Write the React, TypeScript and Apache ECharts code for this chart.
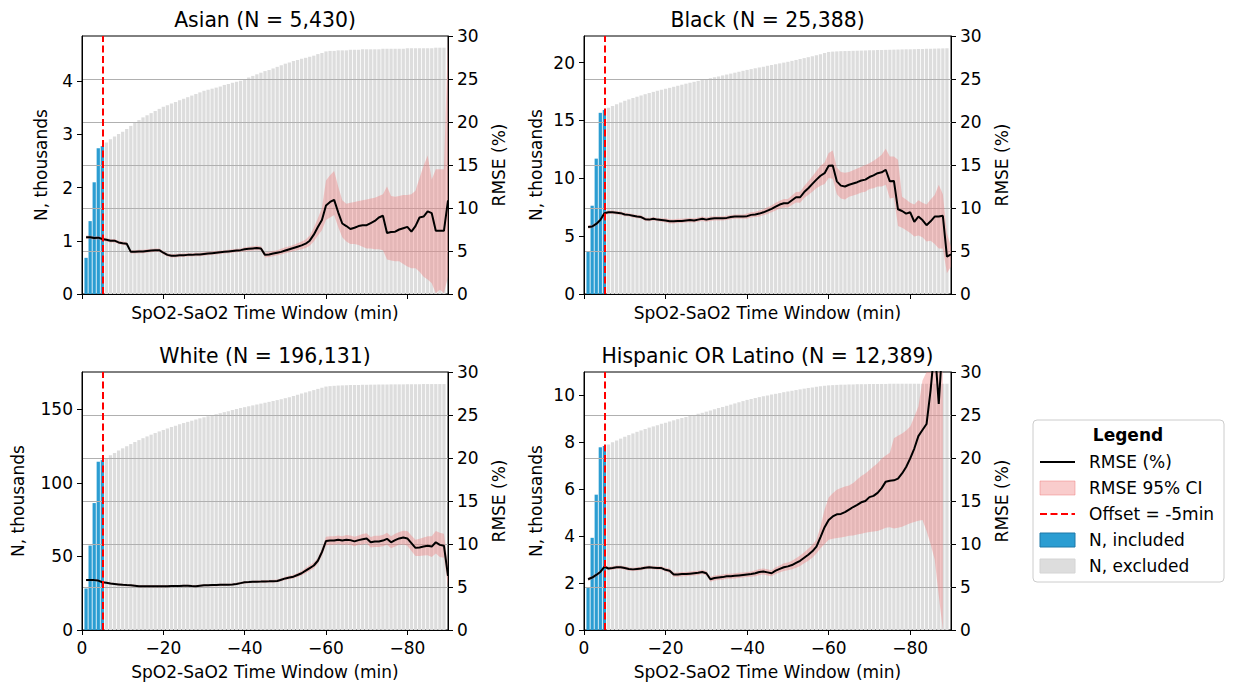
import React, { useEffect, useRef } from 'react';
import * as echarts from 'echarts';

// ---------------- DATA ----------------
const TITLES = ['Asian (N = 5,430)', 'Black (N = 25,388)', 'White (N = 196,131)', 'Hispanic OR Latino (N = 12,389)'];
const X_TICKS = [0, 20, 40, 60, 80];
const RMSE_TICKS = [0, 5, 10, 15, 20, 25, 30];
const N_TICKS = [[0, 1, 2, 3, 4], [0, 5, 10, 15, 20], [0, 50, 100, 150], [0, 2, 4, 6, 8, 10]];
const N_AXIS_MAX = [4.85, 22.3, 175.4, 11.0];
const OFFSET_MIN = 5;
const INCLUDED_COUNT = 5;

// N (thousands) for windows 1..89 min
const N_ASIAN = [
  0.68, 1.37, 2.10, 2.74, 2.78,
  2.85, 2.91, 2.96, 3.01, 3.05, 3.10, 3.16, 3.22, 3.27, 3.32, 3.36, 3.40, 3.44, 3.48, 3.52,
  3.55, 3.58, 3.61, 3.64, 3.67, 3.70, 3.73, 3.76, 3.79, 3.82,
  3.84, 3.86, 3.88, 3.90, 3.93, 3.95, 3.97, 3.99, 4.01, 4.04,
  4.07, 4.10, 4.13, 4.16, 4.19, 4.21, 4.24, 4.27, 4.30, 4.33,
  4.35, 4.38, 4.40, 4.42, 4.44, 4.46, 4.48, 4.51, 4.53, 4.56,
  4.57, 4.57, 4.58, 4.58, 4.58, 4.59, 4.59, 4.59, 4.60, 4.60,
  4.60, 4.60, 4.60, 4.61, 4.61, 4.61, 4.61, 4.61, 4.61, 4.62,
  4.62, 4.62, 4.62, 4.62, 4.62, 4.62, 4.63, 4.63, 4.63,
];
const N_BLACK = [
  3.67, 7.63, 11.70, 15.66, 15.90,
  16.10, 16.25, 16.40, 16.55, 16.70,
  16.82, 16.94, 17.05, 17.16, 17.27, 17.37, 17.47, 17.56, 17.65, 17.73,
  17.82, 17.91, 18.00, 18.09, 18.18, 18.26, 18.34, 18.42, 18.50, 18.57,
  18.65, 18.73, 18.81, 18.89, 18.97, 19.05, 19.13, 19.21, 19.29, 19.37,
  19.44, 19.51, 19.58, 19.65, 19.72, 19.79, 19.86, 19.93, 20.00, 20.07,
  20.15, 20.23, 20.31, 20.39, 20.47, 20.55, 20.63, 20.72, 20.82, 20.92,
  20.95, 20.97, 20.99, 21.00, 21.01, 21.02, 21.03, 21.04, 21.05, 21.06,
  21.07, 21.08, 21.09, 21.10, 21.11, 21.12, 21.13, 21.14, 21.15, 21.15,
  21.16, 21.17, 21.18, 21.19, 21.20, 21.21, 21.22, 21.23, 21.24,
];
const N_WHITE = [
  28.2, 57.4, 86.3, 114.4, 115.5,
  117.0, 118.8, 120.4, 122.0, 123.5,
  125.0, 126.4, 127.8, 129.1, 130.4, 131.6, 132.8, 133.9, 135.0, 136.0,
  137.0, 138.0, 138.9, 139.8, 140.7, 141.5, 142.3, 143.1, 143.9, 144.6,
  145.3, 146.0, 146.7, 147.4, 148.1, 148.8, 149.5, 150.2, 150.9, 151.5,
  152.1, 152.7, 153.3, 153.9, 154.5, 155.1, 155.7, 156.3, 156.9, 157.6,
  158.3, 159.1, 159.9, 160.7, 161.5, 162.3, 163.1, 163.9, 164.7, 165.5,
  165.8, 166.0, 166.2, 166.3, 166.4, 166.5, 166.6, 166.6, 166.7, 166.7,
  166.8, 166.8, 166.9, 166.9, 166.9, 167.0, 167.0, 167.0, 167.0, 167.1,
  167.1, 167.1, 167.1, 167.2, 167.2, 167.2, 167.2, 167.2, 167.2,
];
const N_HISPANIC = [
  1.81, 3.93, 5.77, 7.79, 7.84,
  7.91, 8.00, 8.08, 8.16, 8.24,
  8.31, 8.38, 8.45, 8.51, 8.57, 8.63, 8.68, 8.73, 8.79, 8.84,
  8.89, 8.94, 8.99, 9.04, 9.08, 9.13, 9.17, 9.22, 9.26, 9.31,
  9.36, 9.41, 9.46, 9.51, 9.56, 9.61, 9.66, 9.71, 9.76, 9.81,
  9.85, 9.89, 9.93, 9.97, 10.00, 10.04, 10.07, 10.10, 10.14, 10.17,
  10.20, 10.23, 10.26, 10.29, 10.32, 10.34, 10.37, 10.39, 10.41, 10.43,
  10.44, 10.45, 10.46, 10.46, 10.47, 10.47, 10.48, 10.48, 10.48, 10.49,
  10.49, 10.49, 10.49, 10.49, 10.50, 10.50, 10.50, 10.50, 10.50, 10.50,
  10.50, 10.50, 10.50, 10.50, 10.50, 10.50, 10.50, 10.50, 10.50,
];

// RMSE (%) and 95% CI for windows 1..90 min
const RMSE_ASIAN = [
  6.6, 6.6, 6.5, 6.55, 6.4, 6.3, 6.2, 6.2, 6.0, 5.9,
  5.85, 4.9, 4.9, 4.95, 4.95, 5.0, 5.05, 5.1, 5.1, 4.8,
  4.55, 4.45, 4.45, 4.5, 4.5, 4.55, 4.55, 4.6, 4.6, 4.65,
  4.7, 4.75, 4.8, 4.85, 4.9, 4.95, 5.0, 5.05, 5.1, 5.2,
  5.25, 5.3, 5.35, 5.3, 4.55, 4.6, 4.7, 4.8, 4.9, 5.05,
  5.2, 5.35, 5.5, 5.65, 5.85, 6.2, 6.9, 7.8, 8.6, 10.3,
  10.7, 10.95, 9.5, 8.2, 7.9, 7.55, 7.7, 7.9, 8.0, 8.0,
  8.25, 8.5, 8.9, 9.1, 7.1, 7.2, 7.25, 7.5, 7.65, 7.8,
  7.25, 7.9, 8.9, 9.0, 9.6, 9.4, 7.35, 7.35, 7.35, 10.9,
];
const LO_ASIAN = [
  6.4, 6.4, 6.3, 6.35, 6.2, 6.1, 6.0, 6.0, 5.8, 5.7,
  5.65, 4.7, 4.7, 4.75, 4.75, 4.8, 4.85, 4.9, 4.9, 4.6,
  4.35, 4.25, 4.25, 4.3, 4.3, 4.35, 4.35, 4.4, 4.4, 4.45,
  4.5, 4.55, 4.6, 4.65, 4.7, 4.75, 4.8, 4.85, 4.9, 4.95,
  5.0, 5.05, 5.1, 5.05, 4.25, 4.3, 4.4, 4.5, 4.6, 4.75,
  4.85, 5.0, 5.1, 5.2, 5.35, 5.6, 6.1, 6.8, 7.4, 8.6,
  8.9, 9.2, 7.8, 6.6, 6.1, 5.8, 5.8, 5.7, 5.5, 5.3,
  5.3, 5.2, 5.2, 5.1, 4.0, 3.9, 3.8, 3.8, 3.5, 3.2,
  3.0, 3.0, 2.6, 2.0, 1.7, 1.25, 0.1, 0.5, 0.1, 2.0,
];
const HI_ASIAN = [
  6.8, 6.8, 6.7, 6.75, 6.6, 6.5, 6.4, 6.4, 6.2, 6.1,
  6.05, 5.1, 5.1, 5.15, 5.15, 5.2, 5.25, 5.3, 5.3, 5.0,
  4.75, 4.65, 4.65, 4.7, 4.7, 4.75, 4.75, 4.8, 4.8, 4.85,
  4.9, 4.95, 5.0, 5.05, 5.1, 5.15, 5.2, 5.25, 5.3, 5.45,
  5.5, 5.55, 5.6, 5.55, 4.8, 4.9, 5.0, 5.1, 5.25, 5.45,
  5.55, 5.7, 5.9, 6.1, 6.35, 6.8, 7.7, 8.8, 10.0, 13.2,
  13.8, 14.3, 12.5, 10.9, 10.5, 10.6, 10.7, 10.8, 10.9, 11.0,
  11.1, 11.2, 11.4, 11.6, 12.5, 11.4, 11.3, 11.4, 11.5, 11.5,
  11.6, 12.0, 13.5, 14.9, 16.1, 13.3, 14.5, 14.5, 14.5, 30.5,
];

const RMSE_BLACK = [
  7.8, 7.85, 8.15, 8.6, 9.4, 9.5, 9.5, 9.45, 9.4, 9.25,
  9.2, 9.1, 9.0, 8.95, 8.7, 8.65, 8.75, 8.65, 8.6, 8.55,
  8.45, 8.45, 8.5, 8.5, 8.55, 8.6, 8.55, 8.65, 8.75, 8.65,
  8.75, 8.8, 8.8, 8.8, 8.85, 8.95, 9.0, 9.0, 9.0, 9.05,
  9.2, 9.25, 9.35, 9.5, 9.7, 9.9, 10.15, 10.4, 10.55, 10.55,
  10.9, 11.25, 11.25, 11.85, 12.3, 12.8, 13.3, 13.75, 14.05, 14.9,
  14.95, 13.1, 12.6, 12.5, 12.7, 12.85, 13.0, 13.2, 13.3, 13.6,
  13.8, 14.05, 14.15, 14.45, 13.1, 13.15, 9.85, 9.65, 9.35, 9.5,
  8.4, 9.0, 8.6, 8.0, 8.45, 9.0, 9.0, 9.1, 4.35, 4.6,
];
const LO_BLACK = [
  7.6, 7.65, 7.95, 8.4, 9.2, 9.3, 9.3, 9.25, 9.2, 9.05,
  9.0, 8.9, 8.8, 8.75, 8.5, 8.45, 8.55, 8.45, 8.4, 8.3,
  8.2, 8.2, 8.25, 8.25, 8.3, 8.35, 8.3, 8.4, 8.5, 8.4,
  8.5, 8.55, 8.55, 8.55, 8.6, 8.7, 8.75, 8.75, 8.75, 8.75,
  8.9, 8.95, 9.0, 9.15, 9.3, 9.5, 9.7, 9.95, 10.05, 10.05,
  10.35, 10.65, 10.6, 11.15, 11.5, 11.9, 12.3, 12.6, 12.8, 13.5,
  13.4, 11.6, 11.1, 11.0, 11.3, 11.45, 11.6, 11.8, 11.9, 12.2,
  12.3, 12.5, 12.5, 12.7, 11.1, 11.2, 7.9, 7.7, 7.4, 7.1,
  6.7, 6.8, 6.6, 6.1, 6.2, 5.8, 5.3, 5.3, 2.4, 3.2,
];
const HI_BLACK = [
  8.0, 8.05, 8.35, 8.8, 9.6, 9.7, 9.7, 9.65, 9.6, 9.45,
  9.4, 9.3, 9.2, 9.15, 8.9, 8.85, 8.95, 8.85, 8.8, 8.8,
  8.7, 8.7, 8.75, 8.75, 8.8, 8.85, 8.8, 8.9, 9.0, 8.9,
  9.0, 9.05, 9.05, 9.05, 9.1, 9.2, 9.25, 9.25, 9.25, 9.35,
  9.5, 9.55, 9.7, 9.85, 10.1, 10.3, 10.6, 10.85, 11.05, 11.05,
  11.45, 11.85, 11.9, 12.55, 13.1, 13.7, 14.3, 14.9, 15.3, 16.4,
  16.7, 14.7, 14.2, 14.1, 14.2, 14.4, 14.6, 14.8, 15.0, 15.2,
  15.5, 15.8, 16.2, 16.9, 16.0, 16.0, 15.6, 11.3, 11.0, 10.6,
  10.4, 10.9, 10.6, 10.4, 11.0, 11.5, 12.7, 11.6, 7.1, 5.5,
];

const RMSE_WHITE = [
  5.8, 5.8, 5.8, 5.75, 5.55, 5.5, 5.4, 5.35, 5.3, 5.25,
  5.22, 5.2, 5.15, 5.1, 5.1, 5.1, 5.1, 5.1, 5.1, 5.1,
  5.1, 5.12, 5.12, 5.12, 5.15, 5.15, 5.12, 5.1, 5.15, 5.2,
  5.2, 5.22, 5.22, 5.25, 5.25, 5.27, 5.3, 5.35, 5.45, 5.55,
  5.57, 5.6, 5.62, 5.63, 5.65, 5.66, 5.68, 5.7, 5.85, 6.0,
  6.1, 6.2, 6.4, 6.6, 6.9, 7.2, 7.5, 8.05, 9.05, 10.35,
  10.4, 10.4, 10.5, 10.4, 10.5, 10.45, 10.3, 10.45, 10.55, 10.65,
  10.2, 10.3, 10.3, 10.4, 10.6, 10.2, 10.45, 10.65, 10.75, 10.65,
  10.1, 9.55, 9.6, 9.7, 9.8, 9.7, 10.2, 9.9, 9.8, 6.3,
];
const LO_WHITE = [
  5.68, 5.68, 5.68, 5.63, 5.43, 5.38, 5.28, 5.23, 5.18, 5.13,
  5.1, 5.08, 5.03, 4.98, 4.98, 4.98, 4.98, 4.98, 4.98, 4.98,
  4.98, 5.0, 5.0, 5.0, 5.03, 5.03, 5.0, 4.98, 5.03, 5.08,
  5.08, 5.1, 5.1, 5.13, 5.13, 5.15, 5.18, 5.22, 5.32, 5.42,
  5.44, 5.46, 5.48, 5.49, 5.5, 5.51, 5.53, 5.54, 5.68, 5.82,
  5.9, 5.98, 6.16, 6.34, 6.6, 6.88, 7.15, 7.7, 8.6, 9.85,
  9.9, 9.9, 10.0, 9.9, 9.95, 9.9, 9.75, 9.9, 9.95, 10.05,
  9.6, 9.65, 9.65, 9.75, 9.9, 9.5, 9.7, 9.9, 9.95, 9.8,
  9.2, 8.6, 8.6, 8.65, 8.7, 8.5, 8.9, 8.5, 8.4, 5.0,
];
const HI_WHITE = [
  5.92, 5.92, 5.92, 5.87, 5.67, 5.62, 5.52, 5.47, 5.42, 5.37,
  5.34, 5.32, 5.27, 5.22, 5.22, 5.22, 5.22, 5.22, 5.22, 5.22,
  5.22, 5.24, 5.24, 5.24, 5.27, 5.27, 5.24, 5.22, 5.27, 5.32,
  5.32, 5.34, 5.34, 5.37, 5.37, 5.39, 5.42, 5.48, 5.58, 5.68,
  5.7, 5.74, 5.76, 5.77, 5.8, 5.81, 5.83, 5.86, 6.02, 6.18,
  6.3, 6.42, 6.64, 6.86, 7.2, 7.52, 7.85, 8.4, 9.5, 10.85,
  10.9, 10.9, 11.0, 10.9, 11.05, 11.0, 10.85, 11.0, 11.15, 11.25,
  10.8, 10.95, 10.95, 11.05, 11.3, 10.9, 11.2, 11.4, 11.55, 11.5,
  11.0, 10.5, 10.6, 10.75, 10.9, 10.9, 11.5, 11.3, 11.2, 7.6,
];

const RMSE_HISPANIC = [
  5.9, 6.1, 6.4, 6.75, 7.35, 7.15, 7.2, 7.3, 7.3, 7.2,
  7.1, 7.05, 7.1, 7.15, 7.25, 7.3, 7.25, 7.2, 7.2, 7.0,
  6.9, 6.45, 6.45, 6.5, 6.5, 6.55, 6.6, 6.65, 6.75, 6.6,
  5.9, 6.05, 6.1, 6.15, 6.25, 6.25, 6.3, 6.35, 6.4, 6.45,
  6.5, 6.6, 6.75, 6.8, 6.7, 6.6, 6.9, 7.1, 7.3, 7.4,
  7.55, 7.8, 8.05, 8.4, 8.75, 9.15, 9.7, 10.8, 11.95, 12.8,
  13.2, 13.45, 13.5, 13.7, 14.0, 14.3, 14.55, 14.85, 15.0, 15.45,
  15.6, 15.95, 16.5, 17.25, 17.35, 17.4, 17.6, 18.2, 18.95, 19.95,
  21.1, 22.55, 23.25, 23.95, 27.9, 33.0, 26.3, 34.0, null, null,
];
const LO_HISPANIC = [
  5.7, 5.9, 6.2, 6.55, 7.15, 6.95, 7.0, 7.1, 7.1, 7.0,
  6.9, 6.85, 6.9, 6.95, 7.05, 7.1, 7.05, 7.0, 7.0, 6.8,
  6.65, 6.2, 6.2, 6.25, 6.25, 6.3, 6.35, 6.4, 6.5, 6.35,
  5.6, 5.75, 5.8, 5.85, 5.95, 5.95, 6.0, 6.05, 6.1, 6.15,
  6.2, 6.25, 6.4, 6.45, 6.35, 6.25, 6.5, 6.7, 6.85, 6.95,
  7.05, 7.25, 7.45, 7.75, 8.05, 8.4, 8.9, 9.5, 10.0, 10.5,
  10.6, 10.7, 10.75, 10.85, 10.95, 11.0, 11.1, 11.2, 11.3, 11.4,
  11.45, 11.5, 11.7, 11.9, 11.95, 11.8, 11.9, 12.0, 12.2, 12.4,
  12.55, 12.7, 12.8, 11.5, 10.0, 8.2, 4.0, -3.0, null, null,
];
const HI_HISPANIC = [
  6.1, 6.3, 6.6, 6.95, 7.55, 7.35, 7.4, 7.5, 7.5, 7.4,
  7.3, 7.25, 7.3, 7.35, 7.45, 7.5, 7.45, 7.4, 7.4, 7.2,
  7.15, 6.7, 6.7, 6.75, 6.75, 6.8, 6.85, 6.9, 7.0, 6.85,
  6.2, 6.35, 6.4, 6.45, 6.55, 6.55, 6.6, 6.65, 6.7, 6.75,
  6.8, 6.95, 7.1, 7.15, 7.05, 6.95, 7.3, 7.5, 7.75, 7.85,
  8.05, 8.35, 8.65, 9.05, 9.45, 9.9, 10.5, 12.0, 14.0, 15.4,
  15.9, 16.3, 16.5, 16.7, 16.8, 17.1, 17.5, 17.9, 18.2, 18.6,
  19.0, 19.4, 19.95, 20.3, 20.6, 22.3, 22.6, 22.85, 23.2, 23.65,
  24.8, 26.0, 29.0, 31.0, 36.0, 40.0, 40.0, 40.0, null, null,
];

const LEGEND_ITEMS = ['RMSE (%)', 'RMSE 95% CI', 'Offset = -5min', 'N, included', 'N, excluded'];

// ---------------- STYLE / LAYOUT ----------------
const FONT = 'DejaVu Sans';
const FS = 17;
const BLUE = '#2b9dd2';
const GREY = '#dddddd';
const PINK = 'rgba(240,128,128,0.4)';
const GRIDS = [
  { left: 82, top: 36, width: 366, height: 258 },
  { left: 584, top: 36, width: 367, height: 258 },
  { left: 82, top: 372, width: 366, height: 258 },
  { left: 584, top: 372, width: 367, height: 258 },
];
const LEFT_NAME_GAP = [33, 40, 56, 40];

const PANELS = [
  { n: N_ASIAN, rmse: RMSE_ASIAN, lo: LO_ASIAN, hi: HI_ASIAN },
  { n: N_BLACK, rmse: RMSE_BLACK, lo: LO_BLACK, hi: HI_BLACK },
  { n: N_WHITE, rmse: RMSE_WHITE, lo: LO_WHITE, hi: HI_WHITE },
  { n: N_HISPANIC, rmse: RMSE_HISPANIC, lo: LO_HISPANIC, hi: HI_HISPANIC },
];

function buildOption() {
  const xAxis: any[] = [];
  const yAxis: any[] = [];
  const series: any[] = [];
  const graphic: any[] = [];
  const txt = { color: '#000', fontFamily: FONT, fontSize: FS };

  PANELS.forEach((p, i) => {
    const bottomRow = i >= 2;
    const g = GRIDS[i];
    xAxis.push({
      type: 'value', gridIndex: i, min: 0, max: 90, interval: 20, z: 10,
      axisLine: { show: true, onZero: false, lineStyle: { color: '#000', width: 1 } },
      axisTick: { show: true, length: 5, lineStyle: { color: '#000', width: 1 }, customValues: X_TICKS },
      axisLabel: {
        show: bottomRow, customValues: X_TICKS, margin: 9, ...txt,
        formatter: (v: number) => (v === 0 ? '0' : '\u2212' + v),
      },
      splitLine: { show: false },
      name: 'SpO2-SaO2 Time Window (min)', nameLocation: 'middle',
      nameGap: bottomRow ? 33 : 10, nameTextStyle: txt,
    });
    yAxis.push({
      type: 'value', gridIndex: i, position: 'left', min: 0, max: N_AXIS_MAX[i], z: 10,
      interval: N_TICKS[i][1],
      axisLine: { show: true, onZero: false, lineStyle: { color: '#000', width: 1 } },
      axisTick: { show: true, length: 5, lineStyle: { color: '#000', width: 1 }, customValues: N_TICKS[i] },
      axisLabel: { customValues: N_TICKS[i], margin: 9, ...txt },
      splitLine: { show: false },
      name: 'N, thousands', nameLocation: 'middle', nameRotate: 90, nameGap: LEFT_NAME_GAP[i],
      nameTextStyle: txt,
    });
    yAxis.push({
      type: 'value', gridIndex: i, position: 'right', min: 0, max: 30, interval: 5, z: 10,
      axisLine: { show: true, onZero: false, lineStyle: { color: '#000', width: 1 } },
      axisTick: { show: true, length: 5, lineStyle: { color: '#000', width: 1 } },
      axisLabel: { margin: 9, ...txt },
      splitLine: { show: false },
      name: 'RMSE (%)', nameLocation: 'middle', nameRotate: 90, nameGap: 42,
      nameTextStyle: txt,
    });

    const lIdx = 2 * i;
    const rIdx = 2 * i + 1;
    // bars
    series.push({
      type: 'bar', xAxisIndex: i, yAxisIndex: lIdx, barWidth: 3.25, barGap: '-100%', z: 2,
      itemStyle: { color: BLUE }, silent: true,
      data: p.n.slice(0, INCLUDED_COUNT).map((v, k) => [k + 1, v]),
    });
    series.push({
      type: 'bar', xAxisIndex: i, yAxisIndex: lIdx, barWidth: 3.25, barGap: '-100%', z: 2,
      itemStyle: { color: GREY }, silent: true,
      data: p.n.slice(INCLUDED_COUNT).map((v, k) => [k + 1 + INCLUDED_COUNT, v]),
    });
    // grid lines (over the bars, under the CI)
    series.push({
      type: 'line', xAxisIndex: i, yAxisIndex: rIdx, z: 3, symbol: 'none', silent: true,
      lineStyle: { opacity: 0 },
      data: p.rmse.map((v, k) => [k + 1, v]),
      markLine: {
        z: 3, silent: true, symbol: ['none', 'none'], animation: false,
        label: { show: false },
        lineStyle: { color: '#b0b0b0', width: 1, type: 'solid' },
        data: RMSE_TICKS.slice(1, -1).map((v) => ({ yAxis: v })),
      },
    });
    // CI band drawn as one polygon through the axis scales
    const lo = p.lo;
    const hi = p.hi;
    series.push({
      type: 'custom', xAxisIndex: i, yAxisIndex: rIdx, z: 4, silent: true,
      data: lo.map((v, k) => [k + 1, v, hi[k]]),
      encode: { x: 0, y: [1, 2] },
      renderItem: (params: any, api: any) => {
        if (params.dataIndex !== 0) return null;
        const cs = params.coordSys;
        const top = cs.y;
        const bot = cs.y + cs.height;
        const clampY = (y: number) => Math.max(top, Math.min(bot, y));
        const up: number[][] = [];
        const dn: number[][] = [];
        for (let k = 0; k < lo.length; k++) {
          if (lo[k] == null || hi[k] == null) continue;
          const a = api.coord([k + 1, hi[k]]);
          const b = api.coord([k + 1, lo[k]]);
          up.push([a[0], clampY(a[1])]);
          dn.push([b[0], clampY(b[1])]);
        }
        const points = up.concat(dn.reverse());
        return { type: 'polygon', shape: { points }, style: { fill: PINK, stroke: 'none' } };
      },
    });
    // RMSE line
    series.push({
      type: 'line', xAxisIndex: i, yAxisIndex: rIdx, z: 5, symbol: 'none', silent: true,
      lineStyle: { color: '#000', width: 2 },
      data: p.rmse.map((v, k) => [k + 1, v]),
    });
    // offset line
    series.push({
      type: 'line', xAxisIndex: i, yAxisIndex: rIdx, z: 6, symbol: 'none', silent: true,
      lineStyle: { opacity: 0 },
      data: [[OFFSET_MIN, 0]],
      markLine: {
        z: 6, silent: true, symbol: ['none', 'none'], animation: false,
        label: { show: false },
        lineStyle: { color: '#ff0000', width: 2, type: [7, 3.5] },
        data: [{ xAxis: OFFSET_MIN }],
      },
    });

    graphic.push({
      type: 'text', x: g.left + g.width / 2, y: g.top - 16, z: 20,
      style: { text: TITLES[i], fill: '#000', font: `20.4px "${FONT}"`, textAlign: 'center', textVerticalAlign: 'middle' },
    });
  });

  // Legend
  const LX = 1033, LY = 420;
  graphic.push({
    type: 'rect', shape: { x: LX, y: LY, width: 191, height: 162, r: 4 }, z: 20,
    style: { fill: '#fff', stroke: '#cccccc', lineWidth: 1 },
  });
  graphic.push({
    type: 'text', x: 1128, y: 435, z: 21,
    style: { text: 'Legend', fill: '#000', font: `bold ${FS}px "${FONT}"`, textAlign: 'center', textVerticalAlign: 'middle' },
  });
  const rows = [462, 488, 514, 540, 566];
  const hx0 = 1040, hx1 = 1075;
  graphic.push({ type: 'line', z: 21, shape: { x1: hx0, y1: rows[0], x2: hx1, y2: rows[0] }, style: { stroke: '#000', lineWidth: 2 } });
  graphic.push({ type: 'rect', z: 21, shape: { x: hx0, y: rows[1] - 7, width: hx1 - hx0, height: 14 }, style: { fill: PINK, stroke: 'rgba(240,128,128,0.5)', lineWidth: 1 } });
  graphic.push({ type: 'line', z: 21, shape: { x1: hx0, y1: rows[2], x2: hx1, y2: rows[2] }, style: { stroke: '#ff0000', lineWidth: 2, lineDash: [7, 3.5] } });
  graphic.push({ type: 'rect', z: 21, shape: { x: hx0, y: rows[3] - 7, width: hx1 - hx0, height: 14 }, style: { fill: BLUE, stroke: '#1f78a8', lineWidth: 1 } });
  graphic.push({ type: 'rect', z: 21, shape: { x: hx0, y: rows[4] - 7, width: hx1 - hx0, height: 14 }, style: { fill: GREY, stroke: '#d4d4d4', lineWidth: 1 } });
  LEGEND_ITEMS.forEach((t, k) => {
    graphic.push({
      type: 'text', x: 1089, y: rows[k], z: 21,
      style: { text: t, fill: '#000', font: `${FS}px "${FONT}"`, textAlign: 'left', textVerticalAlign: 'middle' },
    });
  });

  return {
    animation: false,
    backgroundColor: '#fff',
    textStyle: { fontFamily: FONT },
    grid: GRIDS.map((g) => ({ ...g, show: true, borderColor: '#000', borderWidth: 1, backgroundColor: 'transparent' })),
    xAxis, yAxis, series, graphic,
  };
}

export default function App() {
  const ref = useRef<HTMLDivElement>(null);
  useEffect(() => {
    document.body.style.margin = '0';
    const chart = echarts.init(ref.current as HTMLDivElement, undefined, { renderer: 'svg' });
    chart.setOption(buildOption() as any);
    return () => chart.dispose();
  }, []);
  return <div ref={ref} style={{ position: 'absolute', left: 0, top: 0, width: 1235, height: 688, background: '#fff' }} />;
}
